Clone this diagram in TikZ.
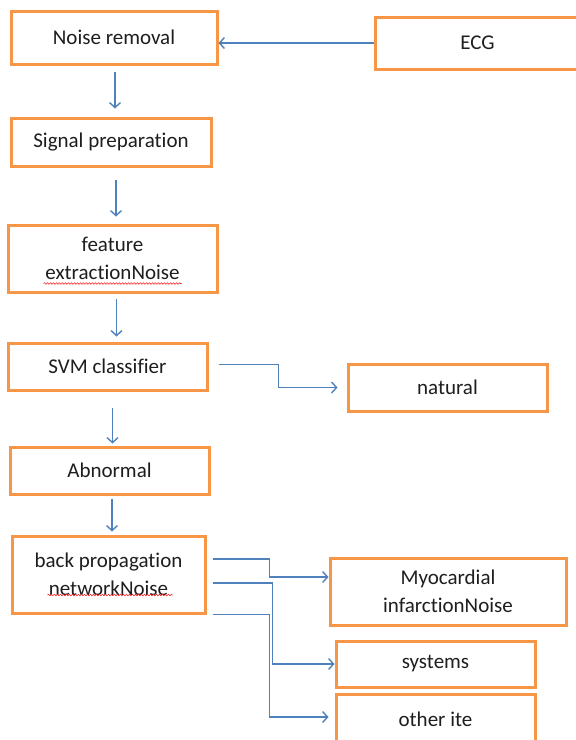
\documentclass[tikz,border=0pt]{standalone}
\usepackage{fontspec}
\setmainfont{Carlito}[Ligatures={NoCommon}]
\usepackage{xcolor}
\definecolor{ink}{HTML}{1E1E1E}
\definecolor{boxorange}{HTML}{F79646}
\definecolor{linkblue}{HTML}{4F81BD}
\usetikzlibrary{arrows.meta,decorations.pathmorphing}

\begin{document}
\begin{tikzpicture}[x=1pt, y=-1pt,
    box/.style={draw=boxorange, line width=3pt, fill=white, align=center, inner sep=2pt,
        text=ink, font=\fontsize{21}{28.5}\selectfont},
    link/.style={draw=linkblue, line width=1.4pt, -{Straight Barb[length=5pt,width=11pt]}},
    squiggle/.style={red!85, line width=0.6pt, decorate,
        decoration={snake, segment length=3pt, amplitude=0.8pt}}]
    \useasboundingbox (0,0) rectangle (576,740);

    % Main processing chain
    \node[box, minimum width=206, minimum height=53] (noise) at (114,37.5) {Noise removal};
    \node[box, minimum width=205, minimum height=52] (ecg) at (477.5,43) {ECG};
    \node[box, minimum width=200, minimum height=48] (prep) at (111,142) {Signal preparation};
    \node[box, minimum width=209, minimum height=67] (feat) at (112.5,258.5) {feature\\extractionNoise};
    \node[box, minimum width=199, minimum height=47] (svm) at (107.5,366.5) {SVM classifier};
    \node[box, minimum width=199, minimum height=47] (natural) at (447.5,387.5) {natural};
    \node[box, minimum width=199, minimum height=47] (abnormal) at (109.5,470.5) {Abnormal};
    \node[box, minimum width=193, minimum height=77] (bpn) at (108.5,574.5) {back propagation\\networkNoise};

    % Output classes
    \node[box, minimum width=236, minimum height=67] (myo) at (448,591.5) {Myocardial\\infarctionNoise};
    \node[box, minimum width=199, minimum height=46] (systems) at (435.5,664) {systems};
    \node[box, minimum width=199, minimum height=50] (other) at (435.5,719) {other ite};

    % Spell-check marks
    \draw[squiggle] ([xshift=-69pt,yshift=10pt]feat.south) -- ([xshift=69pt,yshift=10pt]feat.south);
    \draw[squiggle] ([xshift=-61pt,yshift=19.5pt]bpn.south) -- ([xshift=64pt,yshift=19.5pt]bpn.south);

    % Input
    \draw[link] (ecg.west) -- (ecg.west -| noise.east);

    % Down the chain
    \draw[link, shorten <=6pt, shorten >=8pt] ([xshift=1pt]noise.south) -- ([xshift=1pt]noise.south |- prep.north);
    \draw[link, shorten <=12pt, shorten >=7pt] ([xshift=5pt]prep.south) -- ([xshift=5pt]prep.south |- feat.north);
    \draw[link, shorten <=5pt, shorten >=5pt] ([xshift=4pt]feat.south) -- ([xshift=4pt]feat.south |- svm.north);
    \draw[link, shorten <=16pt, shorten >=2pt] ([xshift=5pt]svm.south) -- ([xshift=5pt]svm.south |- abnormal.north);
    \draw[link, shorten <=3pt, shorten >=3pt] ([xshift=2.5pt]abnormal.south) -- ([xshift=2.5pt]abnormal.south |- bpn.north);

    % Classifier branch
    \draw[link] ([xshift=10pt,yshift=2pt]svm.east) -| ([xshift=-68pt]natural.west) -- ([xshift=-9pt]natural.west);

    % Network branches
    \draw[link] ([xshift=6pt,yshift=15.5pt]bpn.east) -| ([xshift=-59pt,yshift=14.5pt]myo.west) -- ([yshift=14.5pt]myo.west);
    \draw[link] ([xshift=6pt,yshift=-8.5pt]bpn.east) -| ([xshift=-62pt]systems.west) -- (systems.west);
    \draw[link] ([xshift=6pt]bpn.south east) -| ([xshift=-65pt,yshift=2pt]other.west) -- ([xshift=-6pt,yshift=2pt]other.west);
\end{tikzpicture}
\end{document}
